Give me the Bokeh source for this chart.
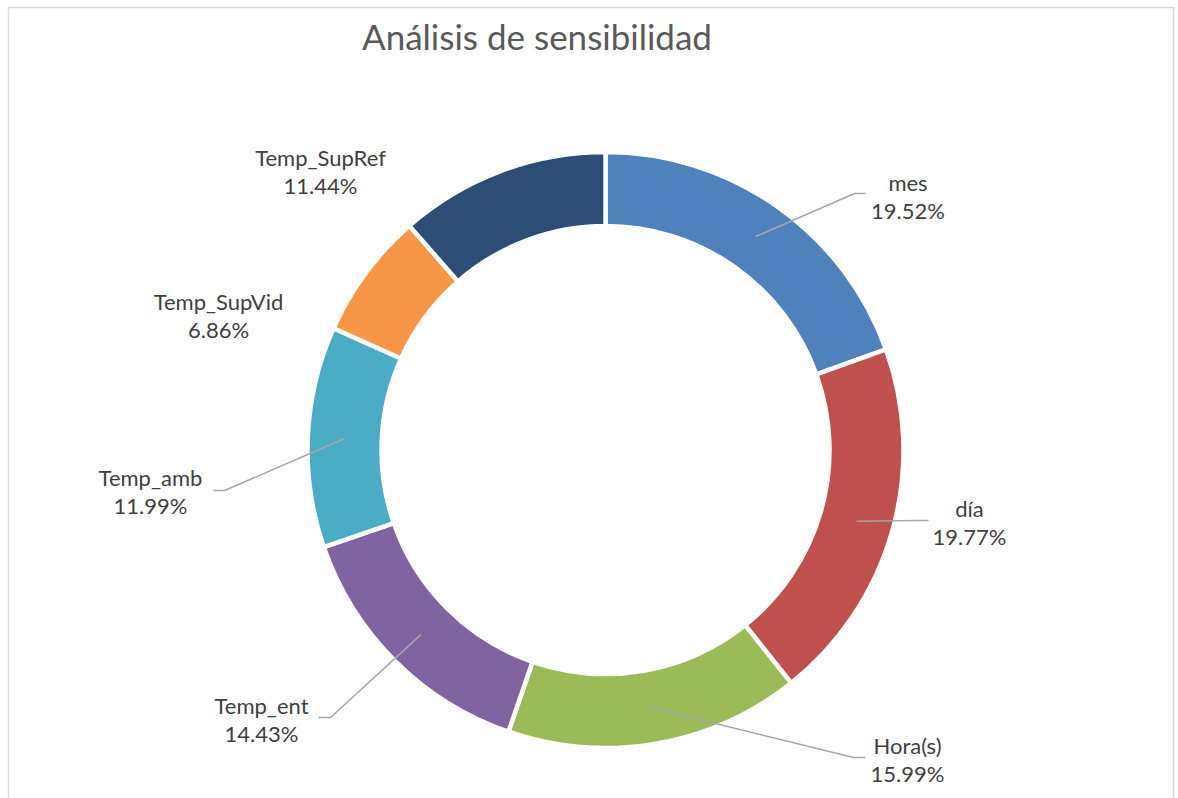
import math
from bokeh.plotting import figure
from bokeh.models import Range1d, ColumnDataSource, Label
from bokeh.core.properties import value
from bokeh.embed import file_html
from bokeh.resources import INLINE

# ---- data ----
categories = ["mes", "día", "Hora(s)", "Temp_ent", "Temp_amb", "Temp_SupVid", "Temp_SupRef"]
shares = [19.52, 19.77, 15.99, 14.43, 11.99, 6.86, 11.44]
colors = ["#4F81BD", "#C0504D", "#9BBB59", "#8064A2", "#4BACC6", "#F79646", "#2C4D75"]
title_text = "Análisis de sensibilidad"

# ---- layout (pixel offsets from the ring centre, y pointing down) ----
W, H = 1178, 798
CX, CY = 605, H - 449.5       # ring centre in plot units (y up)
R_OUT, R_IN = 298, 224
label_offsets = [(302.5, -267.5), (364, 58.5), (302, 295.5), (-344, 255.5),
                 (-455, 27.5), (-387, -148.5), (-285, -292.5)]
leader_bends = [((249, -256.5), (260, -256.5)),
                ((313, 70.5), (323, 70.5)),
                ((248, 307.5), (260, 307.5)),
                ((-275, 267.5), (-287, 267.5)),
                ((-381, 40.5), (-392, 40.5)),
                None, None]
LINE_GAP = 28

p = figure(width=W, height=H, output_backend="svg", toolbar_location=None,
           x_range=Range1d(0, W), y_range=Range1d(0, H), min_border=0)
p.axis.visible = False
p.grid.visible = False
p.outline_line_color = None
p.background_fill_color = "white"
p.border_fill_color = "white"

# chart frame
p.quad(left=[8], right=[1173], top=[H - 7], bottom=[-20],
       fill_color=None, line_color="#d9d9d9", line_width=1.5)

total = sum(shares)
starts, ends, mids = [], [], []
cum = 0.0
for s in shares:
    a0 = cum / total * 2 * math.pi
    cum += s
    a1 = cum / total * 2 * math.pi
    starts.append(math.pi / 2 - a0)
    ends.append(math.pi / 2 - a1)
    mids.append((a0 + a1) / 2)

src = ColumnDataSource(dict(x=[CX] * len(shares), y=[CY] * len(shares),
                            start=starts, end=ends, color=colors))
p.annular_wedge(x="x", y="y", inner_radius=R_IN, outer_radius=R_OUT,
                start_angle="start", end_angle="end", direction="clock",
                fill_color="color", line_color="white", line_width=4.5, source=src)

# leader lines
r_mid = 261
for i, bend in enumerate(leader_bends):
    if bend is None:
        continue
    th = mids[i]
    sx = CX + r_mid * math.sin(th)
    sy = CY + r_mid * math.cos(th)
    (bx, by), (ex, ey) = bend
    p.line([sx, CX + bx, CX + ex], [sy, CY - by, CY - ey],
           line_color="#a6a6a6", line_width=1.5)

# labels
font = value("Lato")
name_x, name_y, pct_y, pct_txt = [], [], [], []
for i, (dx, dy) in enumerate(label_offsets):
    name_x.append(CX + dx)
    name_y.append(CY - dy)
    pct_y.append(CY - dy - LINE_GAP)
    pct_txt.append(f"{shares[i]:.2f}%")
p.text(x=name_x, y=name_y, text=categories, text_font=font, text_font_size="22px",
       text_color="#404040", text_align="center", text_baseline="middle")
p.text(x=name_x, y=pct_y, text=pct_txt, text_font=font, text_font_size="22px",
       text_color="#404040", text_align="center", text_baseline="middle")

p.add_layout(Label(x=536.5, y=H - 35, text=title_text, text_font="Lato",
                   text_font_size="35px", text_color="#595959",
                   text_align="center", text_baseline="middle"))

open("out.html", "w").write(file_html(p, INLINE))
